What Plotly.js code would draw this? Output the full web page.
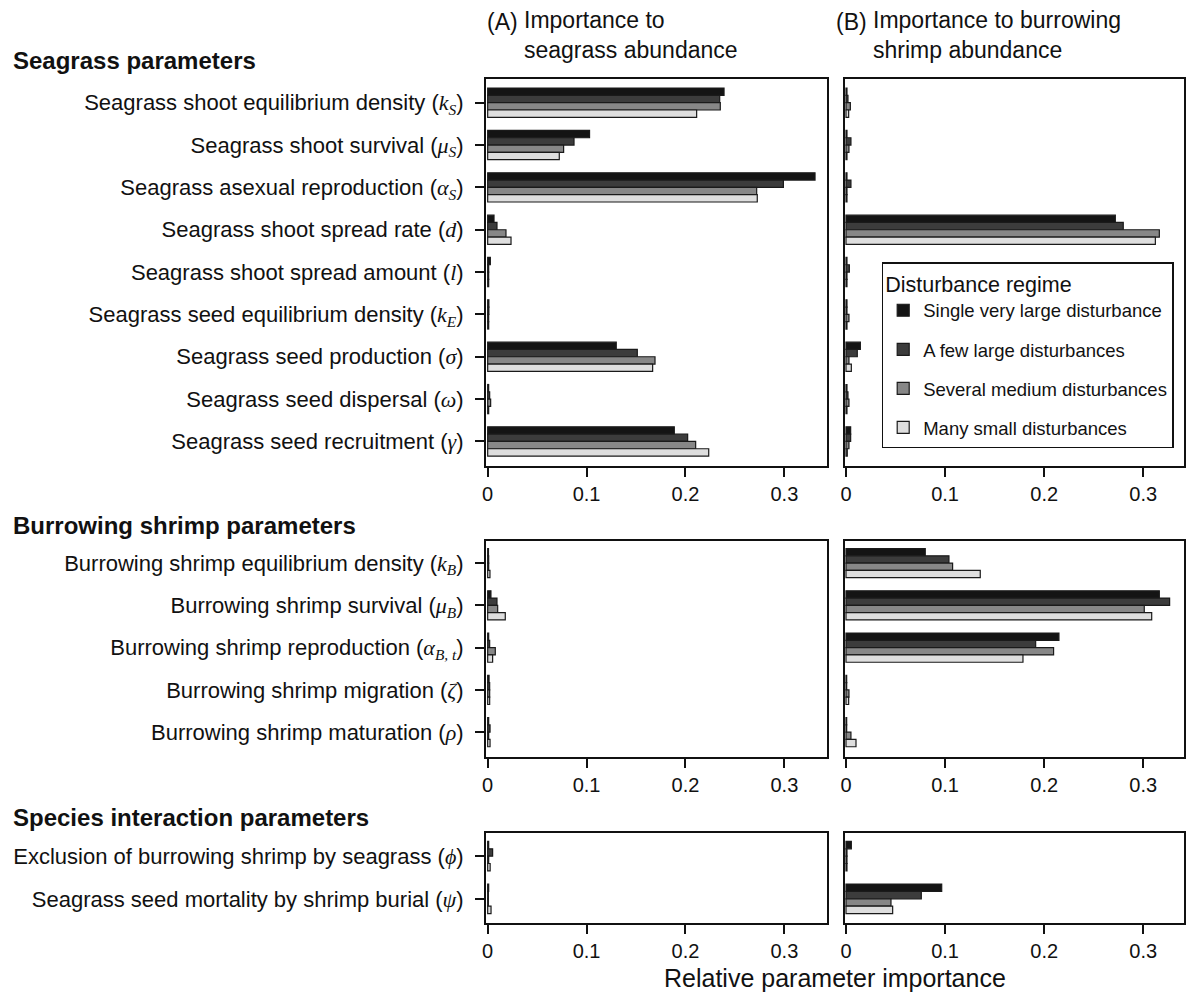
<!DOCTYPE html>
<html>
<head>
<meta charset="utf-8">
<script src="https://cdn.plot.ly/plotly-3.0.1.min.js"></script>
<style>html,body{margin:0;padding:0;background:#fff;}</style>
</head>
<body>
<div id="chart" style="width:1186px;height:1002px;"></div>
<script>
const M = s => '<span style="font-family:\'Liberation Serif\',\'DejaVu Serif\',serif"><i>' + s + '</i></span>';
const MS = (s, sub) => '<span style="font-family:\'Liberation Serif\',\'DejaVu Serif\',serif"><i>' + s + '</i><sub><i>' + sub + '</i></sub></span>';

const seriesNames = ['Single very large disturbance', 'A few large disturbances', 'Several medium disturbances', 'Many small disturbances'];
const seriesColors = ['#141414', '#3c3c3c', '#878787', '#dedede'];

const seagrassParams = [
  'Seagrass shoot equilibrium density (' + MS('k', 'S') + ')',
  'Seagrass shoot survival (' + MS('μ', 'S') + ')',
  'Seagrass asexual reproduction (' + MS('α', 'S') + ')',
  'Seagrass shoot spread rate (' + M('d') + ')',
  'Seagrass shoot spread amount (' + M('l') + ')',
  'Seagrass seed equilibrium density (' + MS('k', 'E') + ')',
  'Seagrass seed production (' + M('σ') + ')',
  'Seagrass seed dispersal (' + M('ω') + ')',
  'Seagrass seed recruitment (' + M('γ') + ')'
];
const shrimpParams = [
  'Burrowing shrimp equilibrium density (' + MS('k', 'B') + ')',
  'Burrowing shrimp survival (' + MS('μ', 'B') + ')',
  'Burrowing shrimp reproduction (' + MS('α', 'B, t') + ')',
  'Burrowing shrimp migration (' + M('ζ') + ')',
  'Burrowing shrimp maturation (' + M('ρ') + ')'
];
const interactionParams = [
  'Exclusion of burrowing shrimp by seagrass (' + M('ϕ') + ')',
  'Seagrass seed mortality by shrimp burial (' + M('ψ') + ')'
];

// (A) importance to seagrass abundance; rows = series (single, few, several, many)
const A_seagrass = [
  [0.239, 0.103, 0.331, 0.0064, 0.0027, 0.0012, 0.130, 0.0010, 0.1887],
  [0.2346, 0.0873, 0.299, 0.0094, 0.0010, 0.0012, 0.1513, 0.0020, 0.2022],
  [0.2352, 0.0768, 0.272, 0.0185, 0.0010, 0.0010, 0.1692, 0.0030, 0.2103],
  [0.2113, 0.0724, 0.2726, 0.0236, 0.0010, 0.0010, 0.1668, 0.0010, 0.2235]
];
const A_shrimp = [
  [0.0008, 0.0033, 0.0010, 0.0014, 0.0010],
  [0.0010, 0.0094, 0.0020, 0.0020, 0.0024],
  [0.0010, 0.0101, 0.0077, 0.0020, 0.0010],
  [0.0023, 0.0178, 0.0050, 0.0020, 0.0024]
];
const A_interaction = [
  [0.0010, 0.0010],
  [0.0050, 0.0007],
  [0.0010, 0.0007],
  [0.0025, 0.0034]
];
// (B) importance to burrowing shrimp abundance
const B_seagrass = [
  [0.0010, 0.0010, 0.0010, 0.2718, 0.0010, 0.0010, 0.0145, 0.0010, 0.0047],
  [0.0020, 0.0050, 0.0050, 0.2798, 0.0034, 0.0010, 0.0114, 0.0020, 0.0047],
  [0.0044, 0.0030, 0.0010, 0.3162, 0.0010, 0.0030, 0.0030, 0.0030, 0.0030],
  [0.0027, 0.0010, 0.0010, 0.3122, 0.0010, 0.0010, 0.0054, 0.0010, 0.0013]
];
const B_shrimp = [
  [0.0800, 0.3162, 0.2149, 0.0007, 0.0007],
  [0.1039, 0.3266, 0.1914, 0.0007, 0.0007],
  [0.1076, 0.3010, 0.2095, 0.0030, 0.0050],
  [0.1355, 0.3085, 0.1786, 0.0027, 0.0101]
];
const B_interaction = [
  [0.0054, 0.0966],
  [0.0010, 0.0760],
  [0.0010, 0.0454],
  [0.0010, 0.0471]
];

const xTickVals = [0, 0.1, 0.2, 0.3];
const xTickText = ['0', '0.1', '0.2', '0.3'];

const W = 1186, H = 1002;
const px = v => v / W;
const py = v => 1 - v / H;

const panels = [
  {cats: seagrassParams, vals: A_seagrass, ax: ''},
  {cats: seagrassParams, vals: B_seagrass, ax: '2'},
  {cats: shrimpParams, vals: A_shrimp, ax: '3'},
  {cats: shrimpParams, vals: B_shrimp, ax: '4'},
  {cats: interactionParams, vals: A_interaction, ax: '5'},
  {cats: interactionParams, vals: B_interaction, ax: '6'}
];

const traces = [];
panels.forEach((p, pi) => {
  p.vals.forEach((v, si) => {
    traces.push({
      type: 'bar',
      orientation: 'h',
      y: p.cats,
      x: v,
      name: seriesNames[si],
      legendgroup: 'g' + si,
      showlegend: pi === 0,
      marker: {color: seriesColors[si], line: {color: '#1a1a1a', width: 1.2}},
      xaxis: 'x' + p.ax,
      yaxis: 'y' + p.ax,
      hovertemplate: '%{x}<extra>' + seriesNames[si] + '</extra>'
    });
  });
});

const font = {family: "'Liberation Sans', Arial, sans-serif", color: '#111', size: 20};

function xax(domain, range, anchor) {
  return {
    domain: domain, range: range, anchor: anchor,
    tickvals: xTickVals, ticktext: xTickText,
    ticks: 'outside', ticklen: 9, tickwidth: 2, tickcolor: '#111',
    showline: true, mirror: true, linecolor: '#111', linewidth: 2,
    showgrid: false, zeroline: false, automargin: false,
    tickfont: {size: 20}
  };
}
function yax(domain, range, anchor, labels) {
  return {
    domain: domain, range: range, anchor: anchor, type: 'category',
    showticklabels: labels, ticks: labels ? 'outside' : '', ticklen: 9, tickwidth: 2, tickcolor: '#111',
    ticklabelstandoff: 7,
    showline: true, mirror: true, linecolor: '#111', linewidth: 2,
    showgrid: false, zeroline: false, automargin: false,
    tickfont: {size: 22}
  };
}

const dA = [px(486), px(826.7)], dB = [px(844.7), px(1184.3)];
const rA = [-0.0017, 0.3428], rB = [-0.0013, 0.3414];
const d1 = [py(466), py(79)], d2 = [py(756.7), py(540.7)], d3 = [py(922.7), py(832.7)];

const layout = {
  width: W, height: H,
  margin: {l: 0, r: 0, t: 0, b: 0},
  paper_bgcolor: '#fff', plot_bgcolor: '#fff',
  font: font,
  barmode: 'group', bargap: 0.31, bargroupgap: 0,
  xaxis: xax(dA, rA, 'y'), yaxis: yax(d1, [8.58, -0.56], 'x', true),
  xaxis2: xax(dB, rB, 'y2'), yaxis2: yax(d1, [8.58, -0.56], 'x2', false),
  xaxis3: xax(dA, rA, 'y3'), yaxis3: yax(d2, [4.58, -0.53], 'x3', true),
  xaxis4: xax(dB, rB, 'y4'), yaxis4: yax(d2, [4.58, -0.53], 'x4', false),
  xaxis5: xax(dA, rA, 'y5'), yaxis5: yax(d3, [1.56, -0.55], 'x5', true),
  xaxis6: xax(dB, rB, 'y6'), yaxis6: yax(d3, [1.56, -0.55], 'x6', false),
  legend: {
    x: px(881.7), y: py(262.3), xanchor: 'left', yanchor: 'top',
    bordercolor: '#111', borderwidth: 1.5, bgcolor: '#fff',
    font: {size: 18.5},
    title: {text: 'Disturbance regime', font: {size: 21.5}},
    tracegroupgap: 12, traceorder: 'grouped'
  },
  annotations: [
    {text: '<b>Seagrass parameters</b>', x: px(11), y: py(60), xref: 'paper', yref: 'paper', xanchor: 'left', yanchor: 'middle', showarrow: false, font: {size: 24}},
    {text: '<b>Burrowing shrimp parameters</b>', x: px(11), y: py(525), xref: 'paper', yref: 'paper', xanchor: 'left', yanchor: 'middle', showarrow: false, font: {size: 24}},
    {text: '<b>Species interaction parameters</b>', x: px(11), y: py(817), xref: 'paper', yref: 'paper', xanchor: 'left', yanchor: 'middle', showarrow: false, font: {size: 24}},
    {text: '(A)', x: px(485), y: py(22), xref: 'paper', yref: 'paper', xanchor: 'left', yanchor: 'middle', showarrow: false, font: {size: 23}},
    {text: 'Importance to<br>seagrass abundance', x: px(522), y: py(5), xref: 'paper', yref: 'paper', xanchor: 'left', yanchor: 'top', align: 'left', showarrow: false, font: {size: 23}},
    {text: '(B)', x: px(834), y: py(22), xref: 'paper', yref: 'paper', xanchor: 'left', yanchor: 'middle', showarrow: false, font: {size: 23}},
    {text: 'Importance to burrowing<br>shrimp abundance', x: px(871), y: py(5), xref: 'paper', yref: 'paper', xanchor: 'left', yanchor: 'top', align: 'left', showarrow: false, font: {size: 23}},
    {text: 'Relative parameter importance', x: px(835), y: py(978), xref: 'paper', yref: 'paper', xanchor: 'center', yanchor: 'middle', showarrow: false, font: {size: 25}}
  ]
};

Plotly.newPlot('chart', traces, layout, {displayModeBar: false});
</script>
</body>
</html>
